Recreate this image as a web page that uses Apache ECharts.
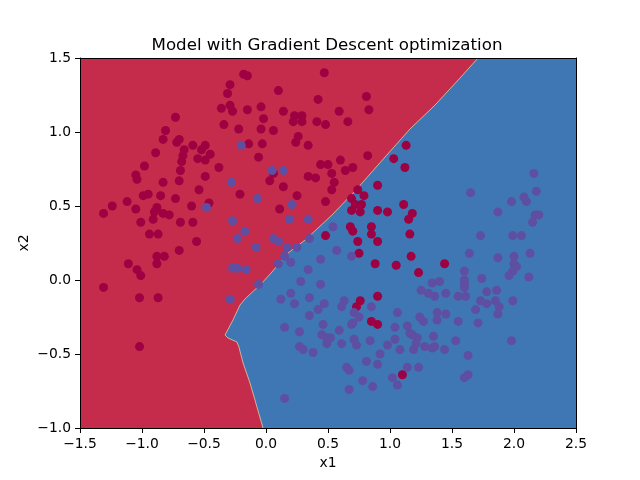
<!DOCTYPE html>
<html><head><meta charset="utf-8">
<script src="https://cdn.jsdelivr.net/npm/echarts@6/dist/echarts.min.js"></script>
<style>html,body{margin:0;padding:0;background:#fff}#c{width:640px;height:480px}</style>
</head><body><div id="c"></div>
<script>
const titleText = "Model with Gradient Descent optimization";
const xTicks = [-1.5, -1.0, -0.5, 0.0, 0.5, 1.0, 1.5, 2.0, 2.5];
const yTicks = [-1.0, -0.5, 0.0, 0.5, 1.0, 1.5];

// decision boundary (class 0 region is upper-left)
const boundaryX = [1.71,1.565,1.363,1.161,0.903,0.718,0.532,0.315,0.177,0.048,-0.032,-0.169,-0.210,-0.266,-0.331,-0.306,-0.234,-0.218,-0.185,-0.129,-0.089,-0.024];
const boundaryY = [1.5,1.365,1.182,1.020,0.777,0.601,0.439,0.270,0.182,0.054,-0.020,-0.128,-0.169,-0.270,-0.372,-0.392,-0.419,-0.453,-0.561,-0.696,-0.811,-1.0];

// class 0 points
const class0 = [[-0.18,1.39],[-0.29,1.32],[-0.31,1.26],[-0.73,1.10],[-0.36,1.16],[-0.29,1.18],[-0.27,1.14],[-0.34,1.05],[-0.22,1.02],[-0.81,1.01],[-0.83,0.95],[-0.70,0.95],[-0.72,0.93],[-0.59,0.91],[-0.49,0.91],[-0.52,0.88],[-0.66,0.88],[-0.89,0.86],[-0.45,0.85],[-0.67,0.84],[-0.55,0.82],[-0.49,0.81],[-0.68,0.80],[-0.98,0.77],[-0.38,0.76],[-0.69,0.74],[-1.05,0.71],[-1.04,0.68],[-0.49,0.70],[-0.83,0.66],[-0.70,0.67],[-0.54,0.61],[-0.95,0.58],[-0.99,0.57],[-0.85,0.57],[-0.21,0.58],[-0.73,0.55],[-1.12,0.53],[-1.24,0.50],[-0.60,0.50],[-0.46,0.52],[-0.88,0.49],[-1.05,0.48],[-1.31,0.45],[-0.90,0.46],[-0.83,0.45],[-0.78,0.44],[-0.91,0.41],[-1.01,0.39],[-0.69,0.39],[-0.59,0.39],[-0.94,0.31],[-0.87,0.31],[-0.56,0.26],
[-0.70,0.20],[-0.88,0.16],[-0.82,0.16],[-1.11,0.11],[-0.88,0.11],[-1.04,0.07],[-1.01,0.03],[-1.31,-0.05],[-1.02,-0.12],[-0.87,-0.12],[-1.02,-0.45],
[-0.15,1.38],[0.47,1.40],[0.10,1.28],[0.42,1.22],[0.81,1.24],[-0.15,1.15],[-0.04,1.17],[-0.02,1.09],[0.14,1.14],[0.23,1.11],[0.29,1.11],[0.22,1.07],[0.29,1.07],[0.41,1.07],[0.48,1.05],[0.59,1.14],[0.66,1.07],[0.83,1.15],[-0.04,1.02],[0.06,1.01],[0.26,0.97],[0.24,0.93],[-0.14,0.92],[-0.03,0.92],[0.34,0.91],[-0.06,0.83],[0.82,0.84],[0.60,0.81],[0.44,0.78],[0.50,0.78],[0.64,0.74],[0.70,0.76],[0.53,0.72],[0.34,0.70],[0.40,0.69],[0.06,0.72],[0.03,0.67],[0.55,0.66],[0.53,0.61],[0.14,0.63],[0.25,0.57],[0.48,0.53],[0.11,0.48],
[0.90,0.64],[0.74,0.61],[0.69,0.55],[0.79,0.57],[0.72,0.51],[0.77,0.51],[0.69,0.47],[0.76,0.46],[0.90,0.47],[0.98,0.46],[0.68,0.36],[0.70,0.33],[0.85,0.36],[0.85,0.31],[0.48,0.30],[0.74,0.26],[0.90,0.26],[1.13,0.91],[1.03,0.82],[1.12,0.76],[1.11,0.51],[1.18,0.45],[1.15,0.41],[1.16,0.31],
[0.75,0.18],[0.88,0.11],[1.05,0.10],[1.17,0.16],[0.90,-0.11],[0.76,-0.14],[0.73,-0.18],[0.85,-0.28],[0.90,-0.30],[1.10,-0.64],[1.44,0.11],[1.23,0.05]];

// class 1 points
const class1 = [[-0.20,0.91],[-0.28,0.66],[-0.48,0.49],[-0.27,0.40],[-0.17,0.33],[-0.23,0.28],[-0.27,0.08],[-0.23,0.08],[-0.16,0.07],[-0.29,-0.13],
[0.05,0.74],[0.14,0.74],[-0.07,0.55],[0.21,0.51],[0.19,0.41],[0.34,0.41],[0.06,0.28],[0.10,0.26],[0.35,0.28],[0.54,0.36],
[2.16,0.72],[1.65,0.59],[2.18,0.60],[1.98,0.53],[2.08,0.56],[2.10,0.53],[1.87,0.46],[2.17,0.44],[2.20,0.44],[2.15,0.39],[1.73,0.30],[1.99,0.30],[2.06,0.30],
[-0.08,0.22],[0.17,0.22],[0.25,0.22],[0.15,0.16],[0.20,0.12],[0.10,0.11],[0.44,0.14],[0.57,0.20],[0.69,0.16],[0.34,0.07],[-0.06,-0.03],[0.28,-0.01],[0.44,-0.03],[0.20,-0.09],[0.12,-0.13],[0.23,-0.16],[0.35,-0.12],[0.47,-0.16],[0.42,-0.20],[0.63,-0.14],[0.61,-0.18],[0.85,-0.18],[0.71,-0.22],[0.75,-0.25],[0.35,-0.24],[1.06,-0.22],[0.46,-0.30],[0.69,-0.30],[0.70,-0.29],[0.15,-0.32],[0.27,-0.35],[0.59,-0.34],[0.45,-0.37],[0.49,-0.39],[0.52,-0.39],[0.49,-0.43],[0.71,-0.40],[0.73,-0.44],[0.61,-0.43],[0.84,-0.41],[1.04,-0.32],[1.14,-0.31],[1.16,-0.36],[1.04,-0.40],[0.98,-0.44],[1.08,-0.47],[0.27,-0.45],[0.30,-0.47],[0.38,-0.49],[0.92,-0.50],[0.65,-0.59],[0.67,-0.61],[0.81,-0.55],[0.90,-0.57],[1.14,-0.59],[0.78,-0.68],[0.86,-0.72],[1.02,-0.66],[1.06,-0.71],[0.67,-0.74],[0.15,-0.80],
[1.64,0.18],[1.87,0.15],[2.00,0.16],[2.13,0.18],[2.00,0.11],[2.02,0.09],[1.99,0.06],[1.96,0.03],[2.12,0.02],[1.60,0.06],[1.60,0.00],[1.60,-0.03],[1.60,-0.05],[1.74,0.01],[1.34,-0.02],[1.40,-0.01],[1.25,-0.07],[1.31,-0.09],[1.36,-0.11],[1.45,-0.09],[1.55,-0.11],[1.61,-0.11],[1.78,-0.08],[1.86,-0.07],[1.73,-0.14],[1.78,-0.16],[1.85,-0.14],[1.88,-0.18],[1.99,-0.14],[1.69,-0.20],[1.87,-0.23],[1.24,-0.25],[1.27,-0.28],[1.38,-0.22],[1.45,-0.23],[1.38,-0.27],[1.55,-0.28],[1.71,-0.29],[1.18,-0.37],[1.22,-0.39],[1.35,-0.38],[1.21,-0.43],[1.28,-0.45],[1.19,-0.47],[1.34,-0.46],[1.36,-0.45],[1.44,-0.47],[1.53,-0.41],[1.98,-0.41],[1.63,-0.51],[1.23,-0.59],[1.63,-0.64],[1.60,-0.66]];

const X_MIN = xTicks[0], X_MAX = xTicks[xTicks.length-1];
const Y_MIN = yTicks[0], Y_MAX = yTicks[yTicks.length-1];

const boundary = boundaryX.map((x,i)=>[x, boundaryY[i]]);
const redRegion = [[X_MIN, Y_MAX]].concat(boundary).concat([[X_MIN, Y_MIN]]);

const fmt = v => (v < 0 ? '\u2212' : '') + Math.abs(v).toFixed(1);
const FONT = 'DejaVu Sans';

const chart = echarts.init(document.getElementById('c'), null, {renderer:'canvas'});
const axisCommon = {
  axisLine:{show:true, onZero:false, lineStyle:{color:'#000', width:1}},
  axisTick:{show:true, inside:false, length:5, lineStyle:{color:'#000', width:1}},
  axisLabel:{show:true, color:'#000', fontSize:13.89, fontFamily:FONT, margin:9, formatter:fmt},
  splitLine:{show:false},
  z:10
};
chart.setOption({
  animation:false,
  backgroundColor:'#fff',
  title:{text:titleText, left:322, top:32, textAlign:'center',
    textStyle:{fontFamily:FONT, fontSize:16.67, fontWeight:'normal', color:'#000'}},
  grid:{left:80, right:64, top:58, bottom:52, show:true, backgroundColor:'#3f77b5', borderWidth:0},
  xAxis:[
    Object.assign({}, axisCommon, {type:'value', min:X_MIN, max:X_MAX, interval:0.5,
      name:'x1', nameLocation:'middle', nameGap:28, nameMoveOverlap:false,
      nameTextStyle:{fontFamily:FONT, fontSize:13.89, color:'#000'}}),
    {type:'value', position:'top', min:X_MIN, max:X_MAX, z:10,
      axisLine:{show:true, onZero:false, lineStyle:{color:'#000', width:1}},
      axisTick:{show:false}, axisLabel:{show:false}, splitLine:{show:false}}
  ],
  yAxis:[
    Object.assign({}, axisCommon, {type:'value', min:Y_MIN, max:Y_MAX, interval:0.5,
      name:'x2', nameLocation:'middle', nameGap:49, nameRotate:90, nameMoveOverlap:false,
      nameTextStyle:{fontFamily:FONT, fontSize:13.89, color:'#000'}}),
    {type:'value', position:'right', min:Y_MIN, max:Y_MAX, z:10,
      axisLine:{show:true, onZero:false, lineStyle:{color:'#000', width:1}},
      axisTick:{show:false}, axisLabel:{show:false}, splitLine:{show:false}}
  ],
  series:[
    {type:'custom', z:1, silent:true, clip:true, data:[[X_MIN, Y_MIN]],
      renderItem:function(params, api){
        const pts = redRegion.map(p => api.coord(p));
        return {type:'polygon', shape:{points:pts}, style:{fill:'#c52c4b'}};
      }},
    {type:'line', z:2, silent:true, data:boundary, symbol:'none', smooth:false,
      lineStyle:{color:'#f4eea8', width:0.8, opacity:0.8}},
    {type:'scatter', z:3, data:class0, symbolSize:9, itemStyle:{color:'#9e0142', opacity:1}},
    {type:'scatter', z:3, data:class1, symbolSize:9, itemStyle:{color:'#5e4fa2', opacity:1}}
  ]
});
</script>
</body></html>
